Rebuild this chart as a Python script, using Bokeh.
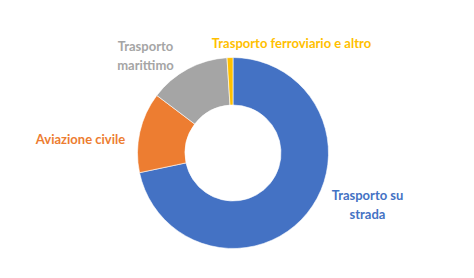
import numpy as np
from bokeh.plotting import figure
from bokeh.models import Range1d, ColumnDataSource
from bokeh.core.properties import value
from bokeh.embed import file_html
from bokeh.resources import INLINE

categories = ["Trasporto su strada", "Aviazione civile", "Trasporto marittimo", "Trasporto ferroviario e altro"]
shares = [71.7, 13.6, 13.7, 1.0]
colors = ["#4472C4", "#ED7D31", "#A5A5A5", "#FFC000"]
label_texts = ["Trasporto su\nstrada", "Aviazione civile", "Trasporto\nmarittimo", "Trasporto ferroviario e altro"]

W, H = 474, 278
cx, cy = 232.5, H - 152.5
r_out, r_in = 95.5, 48.0

vals = np.array(shares, dtype=float)
frac = vals / vals.sum()
cum = np.concatenate([[0], np.cumsum(frac)])
start = np.pi / 2 - cum[:-1] * 2 * np.pi
end = np.pi / 2 - cum[1:] * 2 * np.pi

src = ColumnDataSource(dict(start=start, end=end, color=colors, cat=categories))

p = figure(width=W, height=H, x_range=Range1d(0, W), y_range=Range1d(0, H),
           output_backend="svg", toolbar_location=None, min_border=0)
p.axis.visible = False
p.grid.visible = False
p.outline_line_color = None
p.background_fill_color = "white"

p.annular_wedge(x=cx, y=cy, inner_radius=r_in, outer_radius=r_out,
                start_angle="start", end_angle="end", direction="clock",
                fill_color="color", line_color="white", line_width=0.6, source=src)

# label layout (pixel positions, top-left origin)
lx = [367, 80, 145, 291]
ly = [204, 138, 55, 42]
lsrc = ColumnDataSource(dict(x=lx, y=[H - v for v in ly], text=label_texts, color=colors))
p.text(x="x", y="y", text="text", text_color="color", source=lsrc,
       text_font=value("Lato"), text_font_style="bold", text_font_size="13px",
       text_align="center", text_baseline="middle", text_line_height=1.2)

open("out.html", "w").write(file_html(p, INLINE))
